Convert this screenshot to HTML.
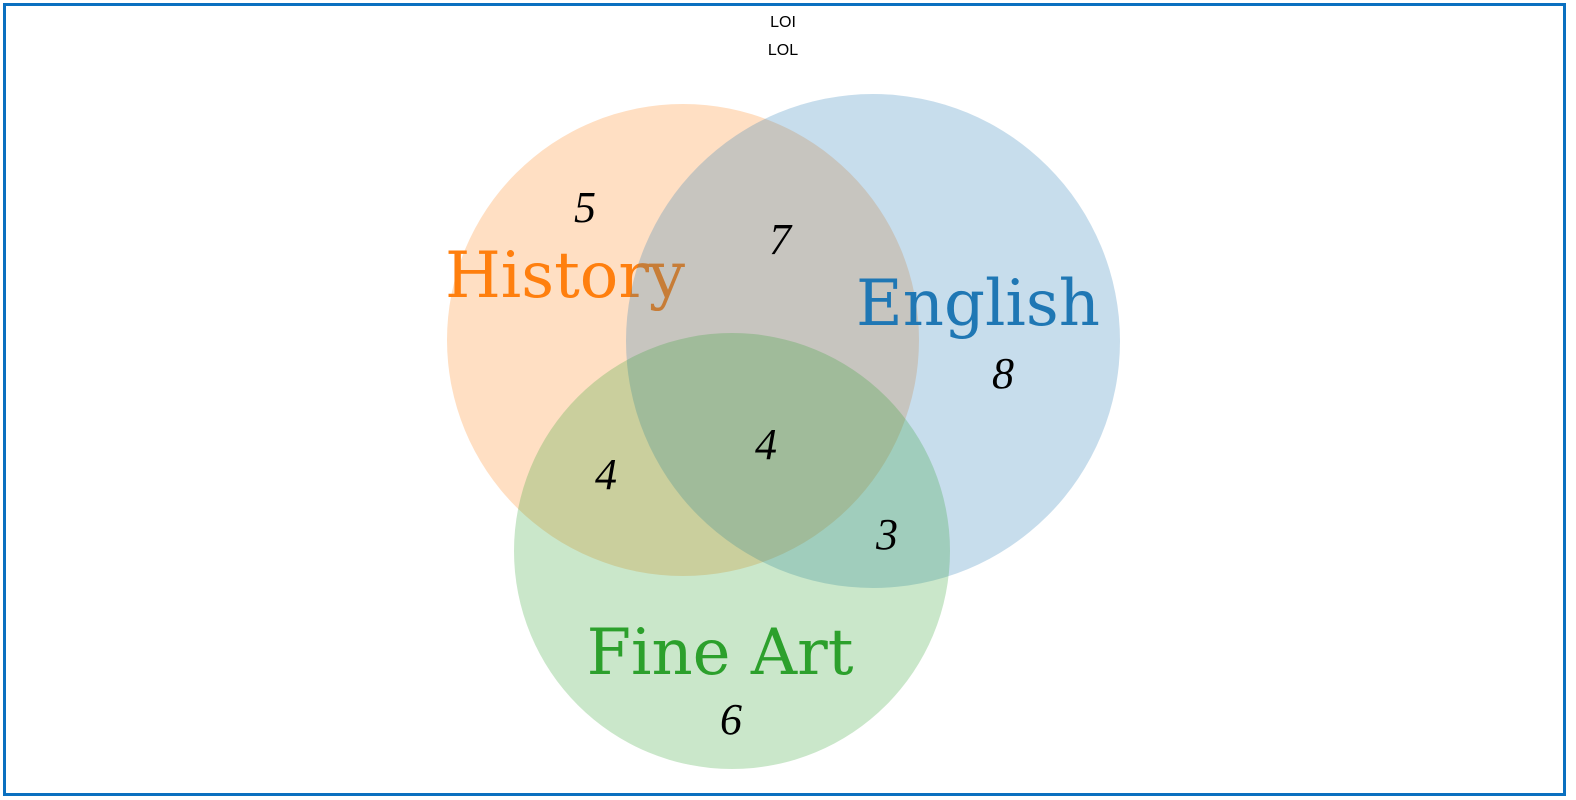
<!DOCTYPE html>
<html><head><meta charset="utf-8"><style>
html,body{margin:0;padding:0;background:#fff;width:1576px;height:800px;overflow:hidden}
</style></head><body>
<svg width="1576" height="800" xmlns="http://www.w3.org/2000/svg">
<rect x="0" y="0" width="1576" height="800" fill="#fff"/>
<rect x="4.5" y="4.5" width="1560" height="790" fill="none" stroke="#0a70c0" stroke-width="3"/>
<text x="783" y="27" font-family="Liberation Sans, sans-serif" font-size="16" text-anchor="middle">LOI</text>
<text x="783" y="55" font-family="Liberation Sans, sans-serif" font-size="16" text-anchor="middle">LOL</text>
<circle cx="683" cy="340" r="236" fill="#ff7f0e" fill-opacity="0.25"/>
<text x="565" y="297" font-family="DejaVu Serif, serif" font-size="64" fill="#ff7f0e" text-anchor="middle">History</text>
<circle cx="873" cy="341" r="247" fill="#1f77b4" fill-opacity="0.25"/>
<text x="978" y="325" font-family="DejaVu Serif, serif" font-size="64" fill="#1f77b4" text-anchor="middle">English</text>
<circle cx="732" cy="551" r="218" fill="#2ca02c" fill-opacity="0.25"/>
<text x="720" y="674" font-family="DejaVu Serif, serif" font-size="64" fill="#2ca02c" text-anchor="middle">Fine Art</text>
<g font-family="Liberation Serif, serif" font-style="italic" font-size="44" fill="#000" text-anchor="middle">
<text x="585" y="222">5</text>
<text x="780" y="254">7</text>
<text x="1003" y="388">8</text>
<text x="766" y="459">4</text>
<text x="606" y="489">4</text>
<text x="887" y="549">3</text>
<text x="731" y="734">6</text>
</g>
</svg>
</body></html>
